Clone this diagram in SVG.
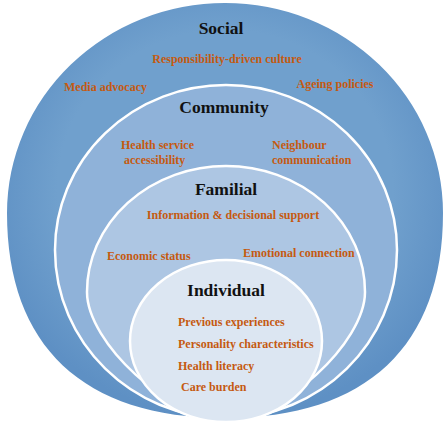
<svg xmlns="http://www.w3.org/2000/svg" width="447" height="426" viewBox="0 0 447 426">
  <defs>
    <radialGradient id="gOuter" cx="0.5" cy="0.45" r="0.55">
      <stop offset="0.7" stop-color="#70a0cd"/>
      <stop offset="1" stop-color="#5e90c4"/>
    </radialGradient>
    <style>
      .ring { stroke: #ffffff; stroke-width: 2.5; }
      .title { font-family: "Liberation Serif", "Times New Roman", serif; font-weight: bold; font-size: 17.5px; fill: #111111; text-anchor: middle; }
      .lbl { font-family: "Liberation Serif", "Times New Roman", serif; font-weight: bold; font-size: 12px; fill: #c55a11; }
      .mid { text-anchor: middle; }
    </style>
  </defs>
  <rect width="447" height="426" fill="#ffffff"/>

  <g id="social">
    <path d="M 7 213 A 218 210 0 0 1 443 213 C 443 346, 366.7 418, 225 418 C 83.3 418, 7 346, 7 213 Z" fill="url(#gOuter)"/>
    <text class="title" x="221" y="34">Social</text>
    <text class="lbl mid" x="227" y="63">Responsibility-driven culture</text>
    <text class="lbl mid" x="105.5" y="91">Media advocacy</text>
    <text class="lbl mid" x="335" y="88">Ageing policies</text>
  </g>

  <g id="community">
    <path class="ring" d="M 55 250 A 171 165 0 0 1 397 250 C 397 342.4, 320 418, 226 418 C 132 418, 55 342.4, 55 250 Z" fill="#8fb2d9"/>
    <text class="title" x="224" y="113">Community</text>
    <text class="lbl" x="121" y="149">Health service</text>
    <text class="lbl" x="124" y="164">accessibility</text>
    <text class="lbl" x="272" y="149">Neighbour</text>
    <text class="lbl" x="272" y="164">communication</text>
  </g>

  <g id="familial">
    <path class="ring" d="M 87 292 A 139 126 0 0 1 365 292 C 365 342.8, 281.6 419, 226 419 C 170.4 419, 87 342.8, 87 292 Z" fill="#adc6e3"/>
    <text class="title" x="226" y="195">Familial</text>
    <text class="lbl mid" x="233" y="219">Information &amp; decisional support</text>
    <text class="lbl" x="107" y="260">Economic status</text>
    <text class="lbl" x="243" y="257">Emotional connection</text>
  </g>

  <g id="individual">
    <ellipse class="ring" cx="226" cy="341" rx="96" ry="81" fill="#dce6f2"/>
    <text class="title" x="226" y="296">Individual</text>
    <text class="lbl" x="178" y="326">Previous experiences</text>
    <text class="lbl" x="178" y="348">Personality characteristics</text>
    <text class="lbl" x="178" y="370">Health literacy</text>
    <text class="lbl" x="181" y="391">Care burden</text>
  </g>

  <g id="connectors"/>
</svg>
